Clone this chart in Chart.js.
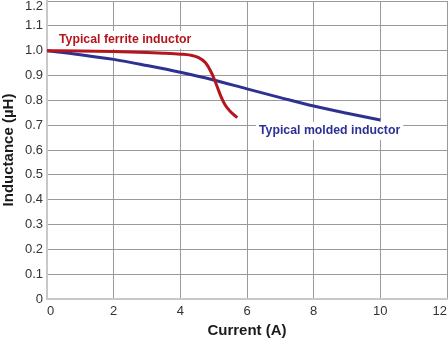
<!DOCTYPE html>
<html>
<head>
<meta charset="utf-8">
<script src="https://cdn.jsdelivr.net/npm/chart.js@4/dist/chart.umd.min.js"></script>
<style>
  html, body { margin: 0; padding: 0; background: #ffffff; }
  #wrap { width: 448px; height: 340px; position: relative; }
</style>
</head>
<body>
<div id="wrap"><canvas id="c" width="448" height="340"></canvas></div>
<script>
// ---- data ----
const ferriteCurrent    = [0, 1, 2, 3, 3.5, 4, 4.3, 4.55, 4.75, 4.9, 5.02, 5.12, 5.22, 5.35, 5.5, 5.71];
const ferriteInductance = [1.0, 0.999, 0.997, 0.993, 0.99, 0.986, 0.982, 0.972, 0.952, 0.92, 0.885, 0.85, 0.815, 0.78, 0.755, 0.73];
const moldedCurrent     = [0, 1, 2, 3, 4, 5, 6, 7, 8, 9, 10];
const moldedInductance  = [1.0, 0.984, 0.965, 0.940, 0.913, 0.882, 0.846, 0.811, 0.777, 0.748, 0.721];
const xTickLabels = ['0', '2', '4', '6', '8', '10', '12'];
const yTickLabels = ['0', '0.1', '0.2', '0.3', '0.4', '0.5', '0.6', '0.7', '0.8', '0.9', '1.0', '1.1', '1.2'];
const seriesNames = ['Typical ferrite inductor', 'Typical molded inductor'];
const xTitle = 'Current (A)';
const yTitle = 'Inductance (\u00b5H)';

const FONT = "'Liberation Sans', Arial, Helvetica, sans-serif";
const RED = '#b5151d';
const BLUE = '#2e3192';

function toPoints(xs, ys) { return xs.map((x, i) => ({ x: x, y: ys[i] })); }

const labelPlugin = {
  id: 'labels',
  beforeDatasetsDraw(chart) {
    const ctx = chart.ctx;
    const xs = chart.scales.x, ys = chart.scales.y;
    ctx.save();
    ctx.font = 'bold 12.3px ' + FONT;
    ctx.textBaseline = 'middle';
    ctx.textAlign = 'left';
    const items = [
      { text: seriesNames[0], color: RED, ax: 0.36, ay: 1.044 },
      { text: seriesNames[1], color: BLUE, ax: 6.36, ay: 0.677 }
    ];
    items.forEach(it => {
      const px = xs.getPixelForValue(it.ax);
      const py = ys.getPixelForValue(it.ay);
      const w = ctx.measureText(it.text).width;
      ctx.fillStyle = '#ffffff';
      ctx.fillRect(px - 3, py - 9, w + 6, 18);
      ctx.fillStyle = it.color;
      ctx.fillText(it.text, px, py);
    });
    ctx.restore();
  },
  afterDraw(chart) {
    const ctx = chart.ctx;
    const ys = chart.scales.y;
    ctx.save();
    ctx.font = '13px ' + FONT;
    ctx.fillStyle = '#333333';
    ctx.textAlign = 'right';
    ctx.textBaseline = 'middle';
    const top = yTickLabels[yTickLabels.length - 1];
    ctx.fillText(top, ys.right - 4, ys.getPixelForValue(parseFloat(top)) + 5);
    ctx.restore();
  }
};

new Chart(document.getElementById('c'), {
  type: 'line',
  data: {
    datasets: [
      {
        label: seriesNames[0],
        data: toPoints(ferriteCurrent, ferriteInductance),
        borderColor: RED,
        borderWidth: 3,
        pointRadius: 0,
        fill: false,
        cubicInterpolationMode: 'monotone',
        borderCapStyle: 'butt'
      },
      {
        label: seriesNames[1],
        data: toPoints(moldedCurrent, moldedInductance),
        borderColor: BLUE,
        borderWidth: 3,
        pointRadius: 0,
        fill: false,
        cubicInterpolationMode: 'monotone',
        borderCapStyle: 'butt'
      }
    ]
  },
  options: {
    responsive: false,
    animation: false,
    devicePixelRatio: 1,
    layout: { padding: { top: 1, right: 1, bottom: 0, left: 0 } },
    plugins: {
      legend: { display: false },
      tooltip: { enabled: false }
    },
    scales: {
      x: {
        type: 'linear',
        min: 0,
        max: 12,
        ticks: {
          stepSize: 2,
          align: 'inner',
          padding: 5,
          color: '#333333',
          font: { family: FONT, size: 13 },
          callback: (v) => { const i = Math.round(v / 2); return xTickLabels[i]; }
        },
        grid: { color: '#9a9a9a', lineWidth: 1, drawTicks: false },
        border: { color: '#c8c8c8', width: 2 },
        title: {
          display: true,
          text: xTitle,
          color: '#1a1a1a',
          font: { family: FONT, size: 15, weight: 'bold' },
          padding: { top: 0, bottom: 0 }
        },
        afterFit(scale) { scale.height = 41; scale.paddingLeft = 0; scale.paddingRight = 0; }
      },
      y: {
        min: 0,
        max: 1.2,
        ticks: {
          stepSize: 0.1,
          padding: 4,
          color: (c) => (Math.abs(c.tick.value - 1.2) < 1e-6 ? 'rgba(0,0,0,0)' : '#333333'),
          font: { family: FONT, size: 13 },
          callback: (v) => { const i = Math.round(v * 10); return yTickLabels[i]; }
        },
        grid: { color: '#9a9a9a', lineWidth: 1, drawTicks: false },
        border: { color: '#c8c8c8', width: 2 },
        title: {
          display: true,
          text: yTitle,
          color: '#1a1a1a',
          font: { family: FONT, size: 15, weight: 'bold' },
          padding: { top: 0, bottom: 0 }
        },
        afterFit(scale) { scale.width = 47; scale.paddingTop = 0; scale.paddingBottom = 0; }
      }
    }
  },
  plugins: [labelPlugin]
});
</script>
</body>
</html>
